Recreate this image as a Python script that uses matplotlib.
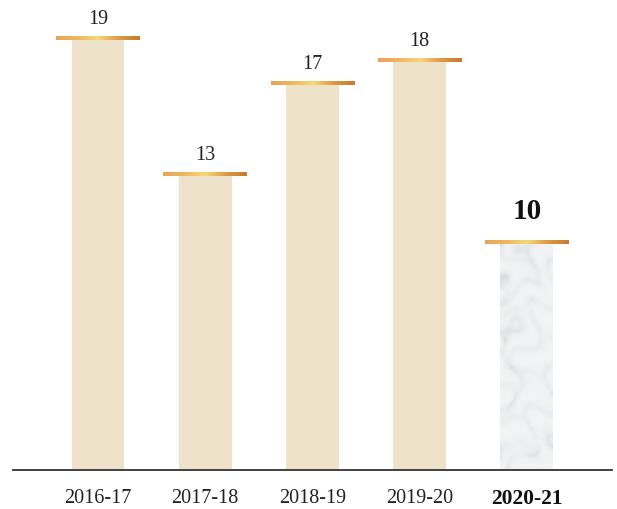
import matplotlib
matplotlib.use("Agg")
import matplotlib.pyplot as plt
import numpy as np
from matplotlib.colors import LinearSegmentedColormap

# data
years = ["2016-17", "2017-18", "2018-19", "2019-20", "2020-21"]
values = [19, 13, 17, 18, 10]

bar_color = "#eee3ca"
cap_cmap = LinearSegmentedColormap.from_list(
    "cap", ["#e6a55a", "#eeb560", "#f7d77a", "#dc9a48", "#c97a2c"])
marble_cmap = LinearSegmentedColormap.from_list(
    "marble", ["#b4bbc1", "#d5dade", "#e9ecee", "#f3f4f5"])

plt.rcParams['font.family'] = ['Liberation Serif', 'DejaVu Serif']

fig = plt.figure(figsize=(6.17, 5.10), dpi=100)
ax = fig.add_axes([13 / 617, 39 / 510, 599 / 617, 471 / 510])

bar_w = 0.494
cap_w = 0.78
x = np.arange(len(values))

for i, v in enumerate(values):
    if i == len(values) - 1:
        # soft marble-ish fill for the latest year (decorative texture)
        yy, xx = np.mgrid[0:70, 0:16] / 3.0
        warp = np.sin(yy * 1.1 + np.sin(xx * 0.8) * 1.5) + 0.5 * np.sin(xx * 1.7 - yy * 0.6)
        veins = np.exp(-np.abs(np.sin(xx * 0.9 + yy * 0.35 + warp * 1.2)) * 3)
        veins2 = np.exp(-np.abs(np.sin(xx * 0.5 - yy * 0.6 + warp)) * 4)
        tex = 1.0 - 0.3 * veins - 0.2 * veins2
        ax.imshow(tex, cmap=marble_cmap, vmin=0.45, vmax=1.0,
                  extent=[i - bar_w / 2, i + bar_w / 2, 0, v],
                  aspect="auto", zorder=2, interpolation="bicubic")
    else:
        ax.bar(i, v, width=bar_w, color=bar_color, zorder=2)
    grad = np.linspace(0, 1, 100).reshape(1, -1)
    ax.imshow(grad, cmap=cap_cmap, extent=[i - cap_w / 2, i + cap_w / 2, v - 0.07, v + 0.07],
              aspect="auto", zorder=3)
    if i == len(values) - 1:
        ax.text(i, v + 1.4, str(v), ha="center", va="center",
                fontsize=21, fontweight="bold", color="#111111")
    else:
        ax.text(i, v + 0.88, str(v), ha="center", va="center",
                fontsize=14.5, color="#222222")

ax.set_xlim(-0.793, 4.795)
ax.set_ylim(0, 20.72)

ax.set_xticks(x)
ax.set_xticklabels(years, fontsize=14.5, color="#222222")
ax.get_xticklabels()[-1].set_fontweight("bold")
ax.get_xticklabels()[-1].set_fontsize(15.5)
ax.get_xticklabels()[-1].set_color("#111111")
ax.tick_params(axis="x", length=0, pad=13)
ax.set_yticks([])
for s in ["top", "right", "left"]:
    ax.spines[s].set_visible(False)
ax.spines["bottom"].set_color("#333333")
ax.spines["bottom"].set_linewidth(1.3)
ax.spines["bottom"].set_zorder(4)

fig.savefig("out.png", dpi=100)
